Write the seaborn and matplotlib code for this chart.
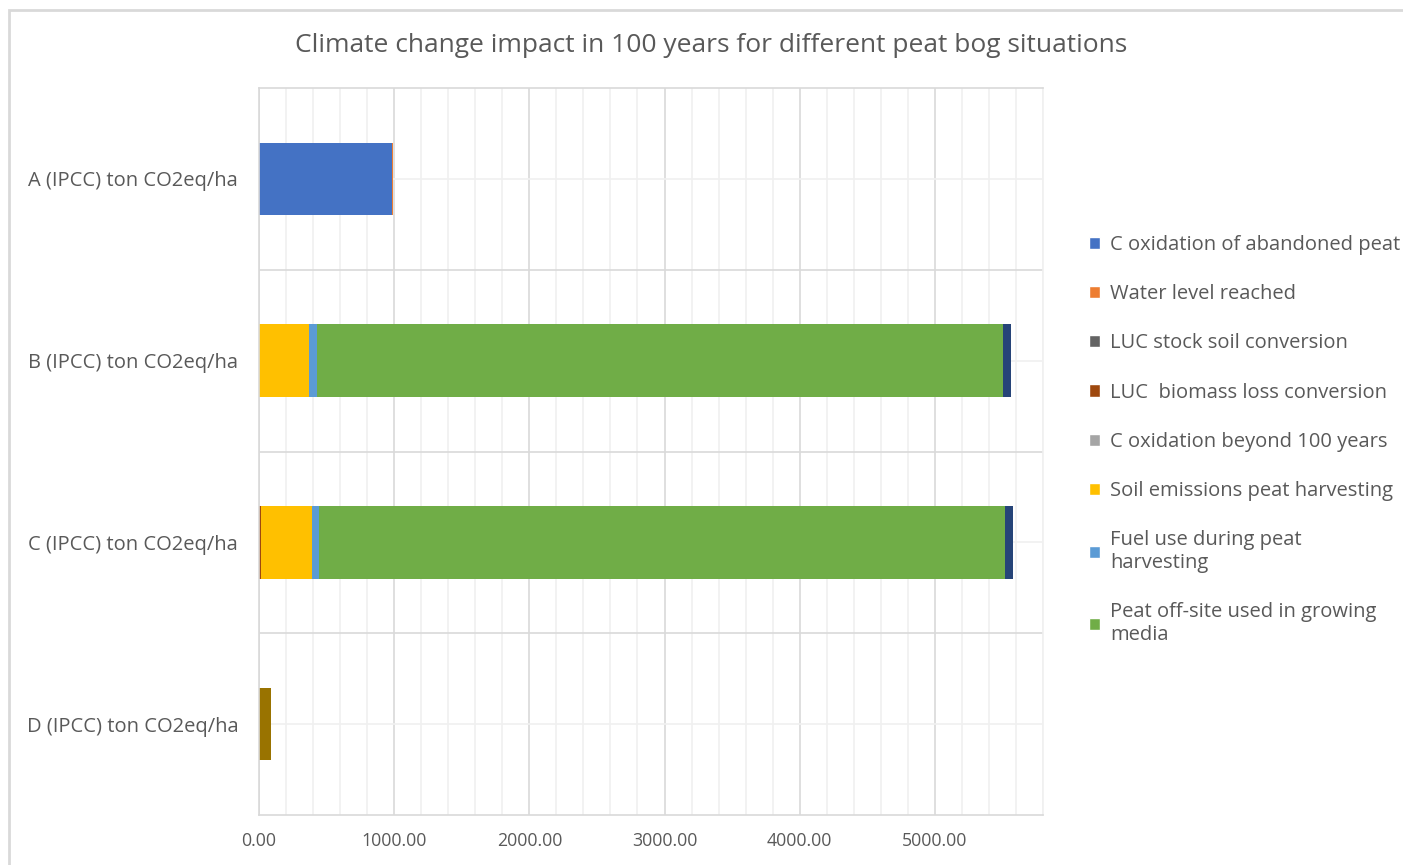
import numpy as np
import pandas as pd
import seaborn as sns
import matplotlib.pyplot as plt
from matplotlib.patches import Patch, Rectangle
from matplotlib.ticker import MultipleLocator, FormatStrFormatter


#%% Data

Categories = [
    "A (IPCC) ton CO2eq/ha",
    "B (IPCC) ton CO2eq/ha",
    "C (IPCC) ton CO2eq/ha",
    "D (IPCC) ton CO2eq/ha",
]

# stacking order, left to right
C_Oxidation_Abandoned = [982, 0, 0, 0]
Water_Level_Reached   = [10, 0, 0, 0]
LUC_Stock_Soil        = [0, 0, 0, 0]
LUC_Biomass_Loss      = [0, 0, 12, 0]
C_Oxidation_Beyond    = [0, 0, 0, 0]
Soil_Emissions        = [0, 372, 377, 0]
Fuel_Use              = [0, 59, 56, 0]
Peat_Offsite          = [0, 5073, 5074, 0]
Series_9              = [0, 59, 59, 0]     # not shown in legend
Series_10             = [0, 0, 0, 90]      # not shown in legend

Series_Names = [
    "C oxidation of abandoned peat",
    "Water level reached",
    "LUC stock soil conversion",
    "LUC  biomass loss conversion",
    "C oxidation beyond 100 years",
    "Soil emissions peat harvesting",
    "Fuel use during peat\nharvesting",
    "Peat off-site used in growing\nmedia",
    "_series 9",
    "_series 10",
]

Series_Values = [
    C_Oxidation_Abandoned, Water_Level_Reached, LUC_Stock_Soil, LUC_Biomass_Loss,
    C_Oxidation_Beyond, Soil_Emissions, Fuel_Use, Peat_Offsite, Series_9, Series_10,
]

Series_Colors = [
    "#4472C4", "#ED7D31", "#636363", "#9E480E", "#A5A5A5",
    "#FFC000", "#5B9BD5", "#70AD47", "#264478", "#997300",
]

Title = "Climate change impact in 100 years for different peat bog situations"


#%% Style

Fig_Width   = 14.03
Fig_Height  = 8.65
DPI         = 100

Axis_left   = 259 / 1403
Axis_bottom = (865 - 815) / 865
Axis_width  = (1043 - 259) / 1403
Axis_height = (815 - 88) / 865

XLim        = [0, 5800]
Bar_Width   = 0.4

Text_Color      = "#595959"
Major_Grid      = "#d9d9d9"
Minor_Grid      = "#f0f0f0"

FontSize_Title  = 19
FontSize_Label  = 14.5
FontSize_Tick   = 12.8

sns.set_theme(style="white")
plt.rcParams["font.family"] = ["Open Sans", "DejaVu Sans"]


#%% Plot

Fig = plt.figure(figsize=[Fig_Width, Fig_Height], dpi=DPI)
ax = Fig.add_axes([Axis_left, Axis_bottom, Axis_width, Axis_height])

cum = np.cumsum(np.array(Series_Values, dtype=float), axis=0)

# draw cumulative totals from the longest down, so each segment shows
for i in range(len(Series_Values) - 1, -1, -1):
    df = pd.DataFrame({"Category": Categories, "Value": cum[i]})
    sns.barplot(data=df, x="Value", y="Category", orient="h",
                color=Series_Colors[i], saturation=1, width=Bar_Width,
                linewidth=0, ax=ax)

ax.set_xlim(XLim)
ax.set_ylim(3.5, -0.5)
ax.set_xlabel("")
ax.set_ylabel("")

# x axis
ax.xaxis.set_major_locator(MultipleLocator(1000))
ax.xaxis.set_minor_locator(MultipleLocator(200))
ax.xaxis.set_major_formatter(FormatStrFormatter("%.2f"))

# y axis: labels at centers, strong lines at category boundaries
ax.set_yticks(range(len(Categories)))
ax.set_yticks([0.5, 1.5, 2.5], minor=True)

ax.tick_params(axis="x", which="both", length=0, pad=12, labelsize=FontSize_Tick,
               labelcolor=Text_Color)
ax.tick_params(axis="y", which="both", length=0, pad=15, labelsize=FontSize_Label,
               labelcolor=Text_Color)

ax.set_axisbelow(True)
ax.grid(axis="x", which="major", color=Major_Grid, linewidth=1.2)
ax.grid(axis="x", which="minor", color=Minor_Grid, linewidth=1.2)
ax.grid(axis="y", which="major", color=Minor_Grid, linewidth=1.2)
ax.grid(axis="y", which="minor", color=Major_Grid, linewidth=1.2)

for side in ["left", "bottom", "top"]:
    ax.spines[side].set_color(Major_Grid)
    ax.spines[side].set_linewidth(1.2)
ax.spines["right"].set_color(Minor_Grid)
ax.spines["right"].set_linewidth(1.2)

# legend
Handles = [Patch(facecolor=Series_Colors[i], label=Series_Names[i])
           for i in range(len(Series_Names)) if not Series_Names[i].startswith("_")]
Leg = ax.legend(handles=Handles, loc="upper left",
                bbox_to_anchor=(1089 / 1403, 1 - 235 / 865),
                bbox_transform=Fig.transFigure, frameon=False,
                fontsize=FontSize_Label, handlelength=0.55, handleheight=0.55,
                handletextpad=0.5, labelspacing=1.45, borderpad=0, borderaxespad=0)
for t in Leg.get_texts():
    t.set_color(Text_Color)

# title
Fig.text(0.507, 1 - 45 / 865, Title, ha="center", va="center",
         fontsize=FontSize_Title, color=Text_Color)

# chart border
Fig.patches.append(Rectangle((9 / 1403, -0.1), 1.2, 1 - 10 / 865 + 0.1,
                             transform=Fig.transFigure, fill=False,
                             edgecolor=Major_Grid, linewidth=2))

plt.savefig("out.png", dpi=DPI)
